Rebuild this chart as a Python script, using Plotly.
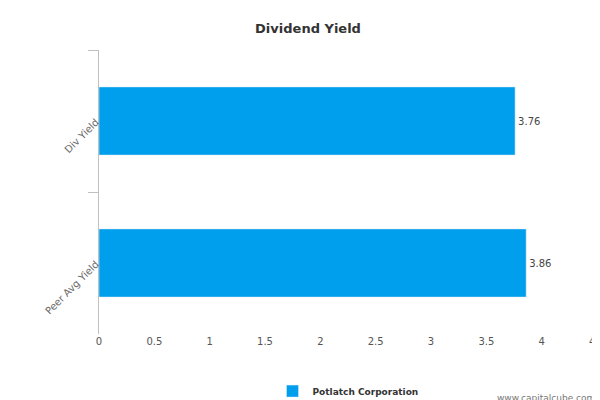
import plotly.graph_objects as go

categories = ["Div Yield", "Peer Avg Yield"]
values = [3.76, 3.86]
series_name = "Potlatch Corporation"

fig = go.Figure(
    go.Bar(
        x=values,
        y=categories,
        orientation="h",
        name=series_name,
        marker=dict(color="#009FEE"),
        width=0.48,
        text=[f"{v:.2f}" for v in values],
        textposition="outside",
        textfont=dict(size=10, color="#444444"),
        cliponaxis=False,
        showlegend=True,
    )
)

fig.update_layout(
    width=600,
    height=400,
    margin=dict(l=91, r=11, t=42, b=74, autoexpand=False),
    paper_bgcolor="white",
    plot_bgcolor="white",
    font=dict(family="DejaVu Sans", size=10, color="#555555"),
    title=dict(text="<b>Dividend Yield</b>", x=0.5, xanchor="center", y=0.96,
               font=dict(size=13, color="#333333"), automargin=False),
    bargap=0.52,
    legend=dict(orientation="h", x=0.5, xanchor="center", y=-0.15, yanchor="top",
                font=dict(size=9, color="#333333"), itemwidth=30),
)
fig.data[0].name = "<b>" + series_name + "</b>"
fig.update_xaxes(range=[0, 4.5], dtick=0.5, showgrid=False, zeroline=False,
                 showline=False, ticks="", automargin=False,
                 tickfont=dict(size=10, color="#555555"))
fig.update_yaxes(autorange="reversed", showgrid=False, showline=True,
                 linecolor="#C0C0C0", ticks="outside", tickson="boundaries",
                 ticklen=10, tickcolor="#C0C0C0", tickangle=-45, automargin=False,
                 tickfont=dict(size=10, color="#666666"))
fig.add_annotation(text="www.capitalcube.com", xref="paper", yref="paper",
                   x=1.0, y=-0.2, xanchor="right", yanchor="top", showarrow=False,
                   font=dict(size=9, color="#777777"))
fig.write_html("out.html")
